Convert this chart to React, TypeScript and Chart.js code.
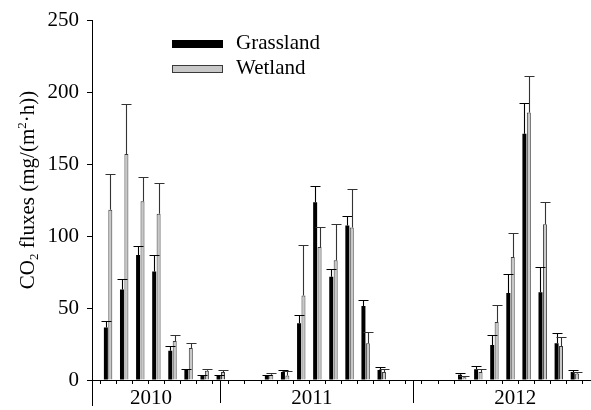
import React, { useEffect, useRef } from "react";
import { Chart, registerables } from "chart.js";

Chart.register(...registerables);

// Monthly slots along the x axis (Apr 2010 .. Nov 2012)
const months = [
  "2010-04", "2010-05", "2010-06", "2010-07", "2010-08", "2010-09", "2010-10", "2010-11",
  "2010-12", "2011-01", "2011-02", "2011-03", "2011-04", "2011-05", "2011-06", "2011-07",
  "2011-08", "2011-09", "2011-10", "2011-11", "2011-12", "2012-01", "2012-02", "2012-03",
  "2012-04", "2012-05", "2012-06", "2012-07", "2012-08", "2012-09", "2012-10", "2012-11",
];

const yearLabels = ["2010", "2011", "2012"];

const grassland = [
  null, 36.6, 63, 87, 75.5, 20.4, 6.9, 2.8, 3.2,
  null, null, 2.8, 5.6, 39.4, 123.6, 71.8, 107.4, 51.4, 6.9,
  null, null, null, null, 3.7, 7.4, 24.3, 60.6, 171.3, 61.1, 25.5, 5.6, null,
];
const grasslandErr = [
  null, 4.2, 7, 6.5, 11.3, 3.2, 1.0, 0.9, 0.6,
  null, null, 0.8, 1.3, 5.5, 11.1, 5.1, 7.0, 4.2, 2.4,
  null, null, null, null, 0.9, 2.3, 7.2, 13.4, 21.3, 17.6, 7.4, 1.3, null,
];
const wetland = [
  null, 118.5, 157.2, 124.3, 115.7, 27.1, 22.2, 6.5, 5.6,
  null, null, 3.7, 3.2, 58.8, 92.6, 83.3, 106, 25.5, 5.6,
  null, null, null, null, 1.9, 5.6, 40.3, 85.6, 186.1, 108.3, 23.6, 4.6, null,
];
const wetlandErr = [
  null, 24.5, 34.5, 16.9, 21.1, 4.2, 3.7, 1.4, 1.3,
  null, null, 1.4, 3.3, 35.2, 13.9, 25.5, 26.9, 7.8, 2.3,
  null, null, null, null, 0.9, 1.8, 12.0, 16.7, 25.5, 15.5, 6.5, 1.0, null,
];

const SERIF = "'Liberation Serif', 'Times New Roman', Times, serif";
const FONT_SIZE = 21;
const GRAY_FILL = "#c8c8c8";
const GRAY_EDGE = "#3a3a3a";

const decorPlugin = {
  id: "decor",
  afterDatasetsDraw(chart: any) {
    const ctx = chart.ctx;
    const yScale = chart.scales.y;
    const errs = [grasslandErr, wetlandErr];
    const colors = ["#000000", "#333333"];
    ctx.save();
    chart.data.datasets.forEach((ds: any, i: number) => {
      const meta = chart.getDatasetMeta(i);
      meta.data.forEach((bar: any, j: number) => {
        const v = ds.data[j];
        const e = errs[i][j];
        if (v == null || e == null) return;
        const top = yScale.getPixelForValue(v + e);
        const cx = Math.round(bar.x) + 0.5;
        ctx.strokeStyle = colors[i];
        ctx.lineWidth = 1.1;
        ctx.beginPath();
        ctx.moveTo(cx, bar.y);
        ctx.lineTo(cx, Math.round(top) + 0.5);
        ctx.moveTo(cx - 5, Math.round(top) + 0.5);
        ctx.lineTo(cx + 5, Math.round(top) + 0.5);
        ctx.stroke();
      });
    });
    ctx.restore();
  },
  afterDraw(chart: any) {
    const ctx = chart.ctx;
    const xScale = chart.scales.x;
    const area = chart.chartArea;
    ctx.save();
    ctx.strokeStyle = "#000";
    ctx.lineWidth = 1;
    // y axis extends below the x axis
    const ax = Math.round(area.left - 0.5) + 0.5;
    ctx.beginPath();
    ctx.moveTo(ax, area.bottom);
    ctx.lineTo(ax, area.bottom + 26);
    // long year-separator ticks
    [8, 20].forEach((k) => {
      const px = Math.round(xScale.getPixelForValue(k) - 0.5) + 0.5;
      ctx.moveTo(px, area.bottom);
      ctx.lineTo(px, area.bottom + 23);
    });
    ctx.stroke();

    // year labels
    ctx.fillStyle = "#000";
    ctx.font = `${FONT_SIZE}px ${SERIF}`;
    ctx.textAlign = "center";
    ctx.textBaseline = "middle";
    const yearPos = [3.66, 13.66, 26.3];
    yearLabels.forEach((t, i) => {
      ctx.fillText(t, xScale.getPixelForValue(yearPos[i]), area.bottom + 18);
    });

    // legend
    ctx.fillStyle = "#000";
    ctx.fillRect(172, 40, 51, 8);
    ctx.fillStyle = GRAY_FILL;
    ctx.fillRect(172.5, 65.5, 50, 7);
    ctx.strokeStyle = GRAY_EDGE;
    ctx.strokeRect(172.5, 65.5, 50, 7);
    ctx.fillStyle = "#000";
    ctx.textAlign = "left";
    ctx.textBaseline = "middle";
    ctx.fillText(chart.data.datasets[0].label, 236, 43);
    ctx.fillText(chart.data.datasets[1].label, 236, 68);

    // y axis title: CO2 fluxes (mg/(m2·h)) with sub/superscript
    ctx.translate(34, 190);
    ctx.rotate(-Math.PI / 2);
    ctx.textBaseline = "alphabetic";
    const big = `${FONT_SIZE}px ${SERIF}`;
    const small = `${Math.round(FONT_SIZE * 0.6)}px ${SERIF}`;
    const parts: [string, string, number][] = [
      ["CO", big, 0],
      ["2", small, 4],
      [" fluxes (mg/(m", big, 0],
      ["2", small, -8],
      ["\u00B7h))", big, 0],
    ];
    let total = 0;
    parts.forEach(([t, f]) => {
      ctx.font = f;
      total += ctx.measureText(t).width;
    });
    let cx = -total / 2;
    parts.forEach(([t, f, dy]) => {
      ctx.font = f;
      ctx.fillText(t, cx, dy);
      cx += ctx.measureText(t).width;
    });
    ctx.restore();
  },
};

export default function App() {
  const canvasRef = useRef<HTMLCanvasElement | null>(null);

  useEffect(() => {
    document.body.style.margin = "0";
    const canvas = canvasRef.current;
    if (!canvas) return;
    const chart = new Chart(canvas, {
      type: "bar",
      data: {
        labels: months,
        datasets: [
          {
            label: "Grassland",
            data: grassland as any,
            backgroundColor: "#000000",
            borderWidth: 0,
            categoryPercentage: 0.55,
            barPercentage: 0.9,
          },
          {
            label: "Wetland",
            data: wetland as any,
            backgroundColor: GRAY_FILL,
            borderColor: GRAY_EDGE,
            borderWidth: 1,
            categoryPercentage: 0.55,
            barPercentage: 0.9,
          },
        ],
      },
      options: {
        animation: false,
        responsive: false,
        maintainAspectRatio: false,
        devicePixelRatio: 1,
        layout: { padding: { top: 19, right: 0, left: 0, bottom: 0 } },
        plugins: {
          legend: { display: false },
          tooltip: { enabled: false },
          title: { display: false },
        },
        scales: {
          x: {
            type: "category",
            offset: false,
            grid: {
              display: true,
              drawOnChartArea: false,
              drawTicks: true,
              tickLength: 4,
              color: "#000",
              lineWidth: 1,
            },
            border: { display: true, color: "#000", width: 1 },
            ticks: { display: false, autoSkip: false },
            afterFit: (scale: any) => {
              scale.height = 30;
            },
          },
          y: {
            min: 0,
            max: 250,
            grid: {
              display: true,
              drawOnChartArea: false,
              drawTicks: true,
              tickLength: 5,
              color: "#000",
              lineWidth: 1,
            },
            border: { display: true, color: "#000", width: 1 },
            ticks: {
              stepSize: 50,
              color: "#000",
              padding: 8,
              font: { family: SERIF, size: FONT_SIZE },
            },
            afterFit: (scale: any) => {
              scale.width = 92;
            },
          },
        },
      },
      plugins: [decorPlugin],
    });
    return () => chart.destroy();
  }, []);

  return (
    <div style={{ width: 591, height: 410 }}>
      <canvas ref={canvasRef} width={591} height={410} style={{ display: "block" }} />
    </div>
  );
}
